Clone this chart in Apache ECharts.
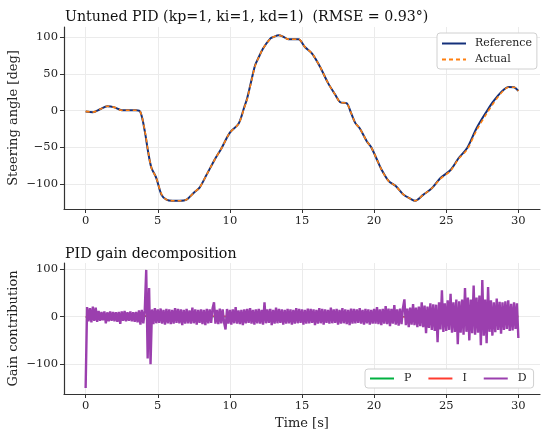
<!DOCTYPE html>
<html>
<head>
<meta charset="utf-8">
<script src="https://cdn.jsdelivr.net/npm/echarts@6/dist/echarts.min.js"></script>
<style>
  html, body { margin: 0; padding: 0; background: #fff; }
  #chart { width: 550px; height: 436px; }
</style>
</head>
<body>
<div id="chart"></div>
<script>
// top panel: steering angle
const refTime = [0, 0.5, 1, 1.5, 2, 2.5, 3, 3.5, 3.8, 4.1, 4.33, 4.56, 4.9, 5.26, 5.6, 6, 6.5, 7, 7.5, 7.9, 8.4, 9, 9.4, 10, 10.6, 11, 11.2, 11.5, 11.75, 12, 12.3, 12.8, 13, 13.4, 13.7, 14.05, 14.75, 15.2, 15.7, 16.25, 16.8, 17.3, 17.65, 18.1, 18.4, 18.7, 19, 19.5, 19.8, 20.2, 20.5, 21, 21.5, 22, 22.5, 22.85, 23.4, 24, 24.6, 25.3, 25.85, 26.45, 27.1, 27.8, 28.2, 28.6, 29, 29.3, 29.7, 30];
const refAngle = [-1, -2, 2, 6, 4.5, 0.5, 0.5, 0.5, -2, -28, -56, -78, -92, -115, -121.5, -123, -123, -121.5, -112, -105, -87, -65, -52, -30, -18, 5, 17, 42, 62, 73, 85, 98.5, 100.5, 103, 101, 97.6, 97.6, 87, 78, 60, 38, 22, 11.5, 10, -3, -17, -24, -42, -50, -67, -80, -96, -103, -114, -120, -123, -115, -106, -92, -81, -65, -51, -24, -1, 11, 21, 29, 32.5, 32, 27];
const actAngle = [-1, -2, 2, 6, 4.5, 0.5, 0.5, 0.5, -2, -27, -55, -78, -92, -114, -121.5, -123, -123, -121.5, -112, -105, -87, -65, -52, -30, -18, 4, 16, 41, 61, 73, 85, 98, 100.5, 103, 101, 97.6, 97.6, 87, 78, 60, 38, 22, 11.5, 10, -3, -17, -24, -42, -50, -67, -80, -96, -103, -114, -120, -123, -115, -106, -93, -82, -66, -53, -27, -4, 8, 19, 28, 32, 32, 27];

// bottom panel: gain contributions
const gainTime = [0, 5, 10, 15, 20, 25, 30];
const pGain = [-1, 1, -0.5, 0.8, -0.6, 1.2, -0.4];
const iGain = [0, 2, 1, 3, 0, -2, 1];
const dStep = 0.1;
const dGain = [
  -150, 20, -10, 18, -12, 21, -9, 19, -11, 12,
  -9, 10, -8, 11, -14, 9, -10, 11, -9, 10,
  -10, 9, -11, 10, -15, 11, -9, 12, -10, 9,
  -9, 11, -10, 9, -11, 10, -12, 13, -17, 14,
  -14, 13, 98, -88, 60, -100, 15, -16, 18, -14,
  15, -13, 17, -15, 14, -17, 16, -14, 15, -16,
  14, -15, 18, -13, 16, -14, 15, -18, 14, -15,
  16, -14, 13, -15, 19, -14, 15, -17, 14, -13,
  15, -16, 14, -18, 16, -14, 15, -13, 17, 30,
  -15, 14, -16, 17, -14, 15, -13, -27, 16, -15,
  14, -17, 15, -14, 20, -15, 13, -16, 14, -18,
  15, -14, 16, -13, 18, -15, 14, -17, 15, -14,
  16, -15, 14, -17, 30, -14, 15, -13, 16, -18,
  14, -15, 19, -14, 16, -13, 15, -17, 14, -15,
  16, -14, 15, -17, 14, -15, 18, -14, 16, -13,
  15, -17, 14, -15, 17, -14, 16, -13, 15, -18,
  14, -15, 18, -14, 16, -17, 15, -13, 14, -15,
  19, -14, 15, -13, 16, -17, 14, -15, 18, -14,
  15, -16, 14, -18, 17, -15, 16, -14, 15, -13,
  18, -15, 14, -17, 16, -14, 15, -17, 14, -15,
  16, -15, 20, -16, 15, -18, 16, -15, 22, -16,
  17, -20, 16, -15, 24, -17, 15, -19, 17, -16,
  18, 36, -18, 17, -22, 19, -17, 26, -18, 19,
  -22, 21, -20, 30, -22, 23, -35, 21, -24, 28,
  -28, 26, -30, 25, -54, 30, -27, 55, -32, 28,
  -30, 34, -28, 48, -34, 30, -32, 36, -58, 32,
  -34, 36, -38, 60, -32, 40, -50, 36, -35, 65,
  -38, 40, -34, 44, -60, 77, -40, 36, -56, 62,
  -32, 34, -40, 30, -33, 38, -28, 31, -36, 30,
  -28, 32, -26, 34, -30, 27, -29, 30, -26, 28,
  -45
];

const xTicks = [0, 5, 10, 15, 20, 25, 30];
const yTicksTop = [-100, -50, 0, 50, 100];
const yTicksBottom = [-100, 0, 100];

const FONT = 'DejaVu Serif';
const pairs = (xs, ys) => xs.map((x, i) => [x, ys[i]]);
const minus = v => (v < 0 ? '\u2212' + (-v) : String(v));

function xAxis(grid, name) {
  return {
    type: 'value', gridIndex: grid, min: -1.5, max: 31.5,
    name: name, nameLocation: 'middle', nameGap: 23, nameMoveOverlap: false,
    nameTextStyle: { fontFamily: FONT, fontSize: 13, color: '#222' },
    axisLine: { show: true, onZero: false, lineStyle: { color: '#333', width: 1.2 } },
    axisTick: { show: true, customValues: xTicks, length: 4, lineStyle: { color: '#333' } },
    axisLabel: { customValues: xTicks, fontFamily: FONT, fontSize: 11.5, color: '#222', margin: 6 },
    splitLine: { show: true, lineStyle: { color: '#ebebeb', width: 1 } }
  };
}

function yAxis(grid, min, max, ticks, name) {
  return {
    type: 'value', gridIndex: grid, min: min, max: max,
    name: name, nameLocation: 'middle', nameGap: 44, nameRotate: 90, nameMoveOverlap: false,
    nameTextStyle: { fontFamily: FONT, fontSize: 13, color: '#222' },
    axisLine: { show: true, onZero: false, lineStyle: { color: '#333', width: 1.2 } },
    axisTick: { show: true, customValues: ticks, length: 4, lineStyle: { color: '#333' } },
    axisLabel: { customValues: ticks, fontFamily: FONT, fontSize: 11.5, color: '#222', margin: 6, formatter: minus },
    splitLine: { show: true, lineStyle: { color: '#ebebeb', width: 1 } }
  };
}

const legendBase = {
  itemWidth: 24, itemHeight: 10,
  itemStyle: { opacity: 0 },
  borderColor: '#d0d0d0', borderWidth: 1, borderRadius: 3, backgroundColor: '#fff'
};

const chart = echarts.init(document.getElementById('chart'));

chart.setOption({
  animation: false,
  backgroundColor: '#fff',
  title: [
    { text: 'Untuned PID (kp=1, ki=1, kd=1)  (RMSE = 0.93°)', left: 60, top: 5,
      textStyle: { fontFamily: FONT, fontSize: 14.2, fontWeight: 'normal', color: '#111' } },
    { text: 'PID gain decomposition', left: 60, top: 242,
      textStyle: { fontFamily: FONT, fontSize: 14.2, fontWeight: 'normal', color: '#111' } }
  ],
  grid: [
    { left: 64, right: 10, top: 27, height: 182, outerBoundsMode: 'none', containLabel: false },
    { left: 64, right: 10, top: 263, height: 131, outerBoundsMode: 'none', containLabel: false }
  ],
  xAxis: [xAxis(0, ''), xAxis(1, 'Time [s]')],
  yAxis: [
    yAxis(0, -134.3, 114.3, yTicksTop, 'Steering angle [deg]'),
    yAxis(1, -162.5, 112.5, yTicksBottom, 'Gain contribution')
  ],
  legend: [
    Object.assign({}, legendBase, {
      data: ['Reference', 'Actual'], orient: 'vertical', left: 437, top: 33,
      itemGap: 5, padding: [5, 5, 4, 4],
      textStyle: { fontFamily: FONT, fontSize: 11, color: '#222', padding: [0, 0, 0, 4] }
    }),
    Object.assign({}, legendBase, {
      data: ['P', 'I', 'D'], orient: 'horizontal', left: 365, top: 369,
      itemGap: 16, padding: [4, 7, 4, 4],
      textStyle: { fontFamily: FONT, fontSize: 11, color: '#222', padding: [0, 0, 0, 5] }
    })
  ],
  series: [
    { name: 'Reference', type: 'line', xAxisIndex: 0, yAxisIndex: 0, showSymbol: false, symbol: 'none',
      smooth: 0.3, data: pairs(refTime, refAngle), lineStyle: { color: '#14307a', width: 2 }, itemStyle: { color: '#14307a' } },
    { name: 'Actual', type: 'line', xAxisIndex: 0, yAxisIndex: 0, showSymbol: false, symbol: 'none',
      smooth: 0.3, data: pairs(refTime, actAngle), lineStyle: { color: '#ff7f0e', width: 1.6, type: [4, 3] }, itemStyle: { color: '#ff7f0e' } },
    { name: 'P', type: 'line', xAxisIndex: 1, yAxisIndex: 1, showSymbol: false, symbol: 'none',
      data: pairs(gainTime, pGain), lineStyle: { color: '#00b140', width: 1.2 }, itemStyle: { color: '#00b140' } },
    { name: 'I', type: 'line', xAxisIndex: 1, yAxisIndex: 1, showSymbol: false, symbol: 'none',
      data: pairs(gainTime, iGain), lineStyle: { color: '#ff3b2f', width: 1.2 }, itemStyle: { color: '#ff3b2f' } },
    { name: 'D', type: 'line', xAxisIndex: 1, yAxisIndex: 1, showSymbol: false, symbol: 'none',
      data: dGain.map((v, i) => [+(i * dStep).toFixed(1), v]),
      lineStyle: { color: '#9b3fae', width: 2.4, join: 'bevel' }, itemStyle: { color: '#9b3fae' } }
  ]
});
</script>
</body>
</html>
